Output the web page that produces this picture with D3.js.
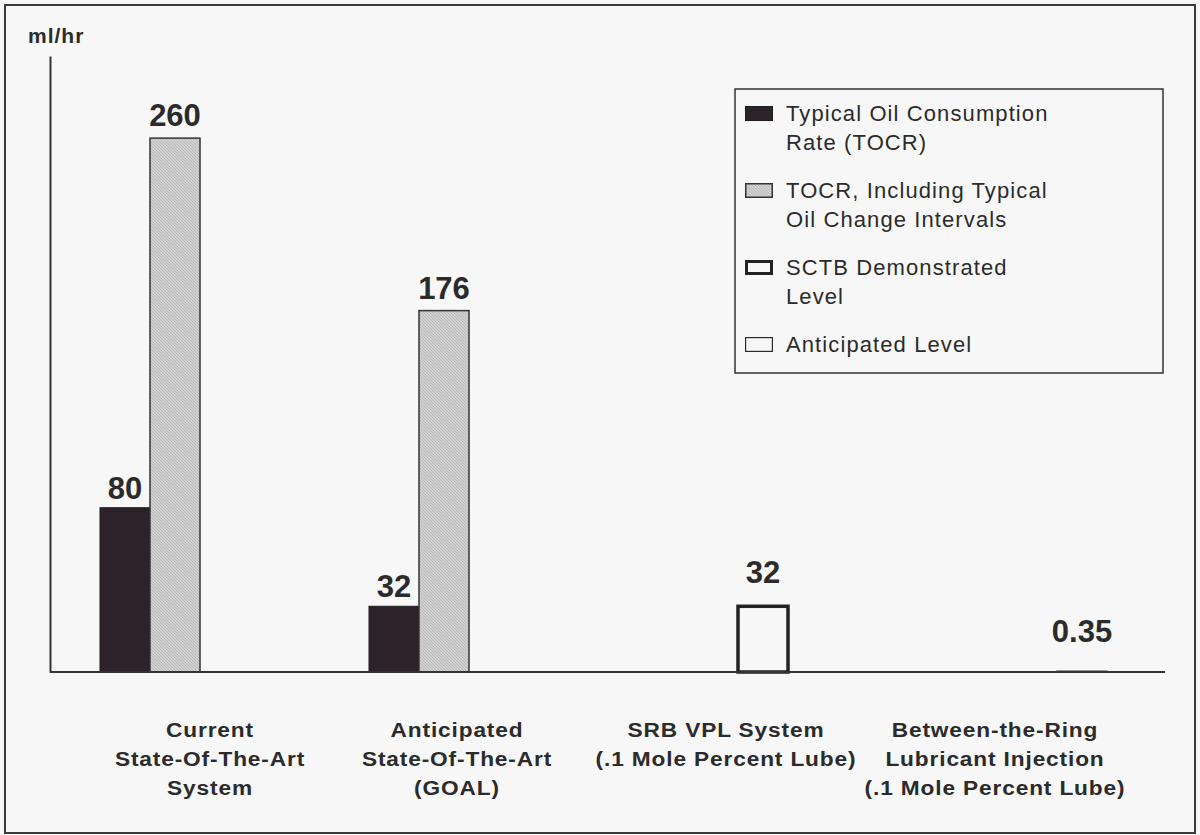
<!DOCTYPE html>
<html>
<head>
<meta charset="utf-8">
<script src="https://cdn.jsdelivr.net/npm/d3@7"></script>
<style>
  html, body { margin: 0; padding: 0; background: #f6f6f6; }
  svg { display: block; }
  text { font-family: "Liberation Sans", Arial, sans-serif; fill: #2b2b2b; }
</style>
</head>
<body>
<svg id="chart" width="1200" height="835"></svg>
<script>
// Oil consumption categories (multi-line axis labels)
const categories = [
  "Current\nState-Of-The-Art\nSystem",
  "Anticipated\nState-Of-The-Art\n(GOAL)",
  "SRB VPL System\n(.1 Mole Percent Lube)",
  "Between-the-Ring\nLubricant Injection\n(.1 Mole Percent Lube)"
];

// Series keys and legend labels
const seriesKeys = ["tocr", "tocrOilChange", "sctb", "anticipated"];
const seriesLabels = [
  "Typical Oil Consumption\nRate (TOCR)",
  "TOCR, Including Typical\nOil Change Intervals",
  "SCTB Demonstrated\nLevel",
  "Anticipated Level"
];

// Values in ml/hr per category (null = not shown)
const tocr          = [80, 32, null, null];
const tocrOilChange = [260, 176, null, null];
const sctb          = [null, null, 32, null];
const anticipated   = [null, null, null, 0.35];

const yUnit = "ml/hr";

const seriesValues = { tocr, tocrOilChange, sctb, anticipated };

const svg = d3.select("#chart");
const W = 1200, H = 835;

// Outer frame
svg.append("rect")
  .attr("x", 5).attr("y", 5).attr("width", W - 10).attr("height", H - 7)
  .attr("fill", "#f7f7f7").attr("stroke", "#3a3a3a").attr("stroke-width", 2);

// Hatched fill for the light bars
const defs = svg.append("defs");
const pat = defs.append("pattern")
  .attr("id", "hatch").attr("patternUnits", "userSpaceOnUse")
  .attr("width", 3).attr("height", 3);
pat.append("rect").attr("width", 3).attr("height", 3).attr("fill", "#d0d0d0");
pat.append("path").attr("d", "M-1,-1 L4,4").attr("stroke", "#bababa").attr("stroke-width", 1);

const axisLeftX = 50, axisRightX = 1165, baseY = 672, topY = 56;

// Scales
const x0 = d3.scaleBand()
  .domain(categories)
  .range([100, 1107])
  .paddingInner(69 / 269)
  .paddingOuter(0);

const x1 = d3.scaleBand()
  .domain(seriesKeys)
  .range([0, x0.bandwidth()]);

const y = d3.scaleLinear().domain([0, 300]).range([baseY, topY]);

const styles = {
  tocr:          { fill: "#2b2329", stroke: "#1e1a1d", sw: 1,   labelGap: 9 },
  tocrOilChange: { fill: "url(#hatch)", stroke: "#333", sw: 1.5, labelGap: 12 },
  sctb:          { fill: "#f7f7f7", stroke: "#222", sw: 3.5, labelGap: 23 },
  anticipated:   { fill: "#f7f7f7", stroke: "#2b2b2b", sw: 1.5, labelGap: 29 }
};

// Flatten to bar records
const bars = [];
seriesKeys.forEach(k => {
  seriesValues[k].forEach((v, i) => {
    if (v != null) bars.push({ key: k, cat: categories[i], value: v });
  });
});

const barG = svg.append("g");
barG.selectAll("rect.bar").data(bars).join("rect")
  .attr("class", "bar")
  .attr("x", d => x0(d.cat) + x1(d.key))
  .attr("width", x1.bandwidth())
  .attr("y", d => y(d.value))
  .attr("height", d => y(0) - y(d.value))
  .attr("fill", d => styles[d.key].fill)
  .attr("stroke", d => styles[d.key].stroke)
  .attr("stroke-width", d => styles[d.key].sw);

// Value labels
barG.selectAll("text.val").data(bars).join("text")
  .attr("class", "val")
  .attr("x", d => x0(d.cat) + x1(d.key) + x1.bandwidth() / 2)
  .attr("y", d => y(d.value) - styles[d.key].labelGap)
  .attr("text-anchor", "middle")
  .attr("font-size", 31).attr("font-weight", "bold")
  .text(d => String(d.value));

// Y axis (line only)
svg.append("g")
  .attr("transform", `translate(${axisLeftX},0)`)
  .call(d3.axisLeft(y).tickValues([]).tickSizeOuter(0))
  .call(g => g.select(".domain").attr("stroke", "#333").attr("stroke-width", 2));

// Baseline
svg.append("line")
  .attr("x1", axisLeftX).attr("x2", axisRightX)
  .attr("y1", y(0)).attr("y2", y(0))
  .attr("stroke", "#333").attr("stroke-width", 2);

// Unit label
svg.append("text")
  .attr("x", 28).attr("y", 43)
  .attr("font-size", 21).attr("font-weight", "bold")
  .attr("letter-spacing", 1)
  .text(yUnit);

// Category labels (slightly widened type)
const catG = svg.append("g");
const stretch = 1.08;
categories.forEach((c, i) => {
  const cx = x0(c) + x0.bandwidth() * 0.5 - (i === 0 ? -10 : 12);
  const t = catG.append("text")
    .attr("transform", `translate(${cx},0) scale(${stretch},1)`)
    .attr("text-anchor", "middle")
    .attr("font-size", 21).attr("font-weight", "bold")
    .attr("letter-spacing", 0.8);
  c.split("\n").forEach((line, j) => {
    t.append("tspan").attr("x", 0).attr("y", 737 + j * 29).text(line);
  });
});

// Legend
const lg = svg.append("g");
lg.append("rect")
  .attr("x", 735).attr("y", 89).attr("width", 428).attr("height", 284)
  .attr("fill", "none").attr("stroke", "#333").attr("stroke-width", 1.5);

let baseline = 121;
seriesKeys.forEach((k, i) => {
  const st = styles[k];
  const sw = k === "anticipated" ? 1.2 : (k === "sctb" ? 3 : st.sw);
  const inset = sw / 2;
  lg.append("rect")
    .attr("x", 745 + inset).attr("y", baseline - 15 + inset)
    .attr("width", 28 - 2 * inset).attr("height", 15 - 2 * inset)
    .attr("fill", st.fill).attr("stroke", st.stroke)
    .attr("stroke-width", sw);
  const lines = seriesLabels[i].split("\n");
  const t = lg.append("text").attr("font-size", 22).attr("letter-spacing", 1.1);
  lines.forEach((line, j) => {
    t.append("tspan").attr("x", 786).attr("y", baseline + j * 29).text(line);
  });
  baseline += (lines.length - 1) * 29 + 48;
});
</script>
</body>
</html>
